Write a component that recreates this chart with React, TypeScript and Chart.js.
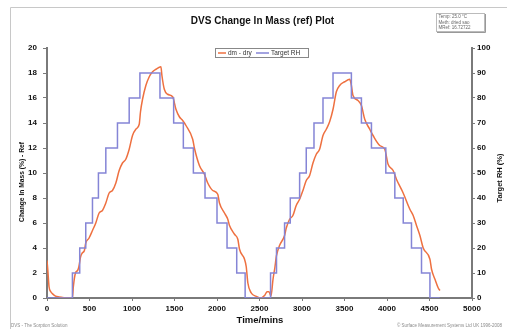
import React, { useEffect, useRef } from "react";
import { Chart, registerables } from "chart.js";

Chart.register(...registerables);

// Sample data
const dmTimes = [0, 10, 24, 45, 63, 100, 141, 200, 299, 310, 335, 360, 375, 395, 415, 440, 456, 495, 535, 574, 613, 652, 692, 731, 770, 810, 849, 888, 927, 967, 1006, 1045, 1085, 1100, 1124, 1163, 1203, 1242, 1281, 1340, 1352, 1380, 1419, 1478, 1517, 1557, 1596, 1635, 1714, 1734, 1793, 1852, 1891, 1950, 2009, 2029, 2088, 2127, 2147, 2206, 2245, 2265, 2324, 2344, 2363, 2403, 2462, 2521, 2560, 2590, 2612, 2635, 2659, 2680, 2700, 2736, 2795, 2815, 2854, 2893, 2932, 2972, 3011, 3050, 3090, 3129, 3168, 3207, 3247, 3286, 3325, 3365, 3404, 3443, 3502, 3561, 3581, 3600, 3659, 3699, 3738, 3797, 3836, 3915, 3974, 4013, 4072, 4111, 4190, 4269, 4308, 4347, 4387, 4426, 4505, 4524, 4564, 4603, 4623];
const dmValues = [3.0, 2.2, 0.9, 0.5, 0.35, 0.15, 0.08, 0.03, 0.0, 0.9, 2.0, 2.2, 2.5, 3.3, 3.6, 3.8, 4.4, 4.8, 5.4, 6.0, 6.8, 7.0, 7.6, 8.4, 8.6, 9.2, 10.2, 10.8, 11.1, 11.9, 13.0, 13.5, 13.9, 14.9, 15.9, 17.0, 17.7, 18.1, 18.3, 18.5, 17.8, 16.7, 16.3, 16.1, 15.1, 14.5, 14.2, 13.8, 12.7, 12.0, 10.6, 9.9, 9.2, 8.6, 8.3, 7.6, 6.8, 6.3, 5.8, 5.1, 4.7, 3.9, 3.1, 2.5, 1.2, 0.4, 0.13, 0.0, 0.2, 0.5, 0.5, 0.15, 1.5, 2.4, 3.4, 4.2, 5.0, 5.6, 6.3, 6.6, 7.4, 7.9, 8.6, 9.4, 9.8, 10.8, 11.5, 11.9, 13.0, 13.5, 14.1, 15.1, 16.5, 17.0, 17.3, 17.5, 17.0, 16.2, 15.8, 15.4, 14.3, 13.5, 13.0, 12.2, 11.9, 10.7, 10.2, 9.5, 8.4, 7.1, 6.6, 5.8, 5.0, 4.0, 3.1, 2.3, 1.5, 0.8, 0.6];

const rhTimes = [0, 299, 385, 456, 535, 605, 692, 829, 967, 1093, 1329, 1490, 1604, 1722, 1859, 2000, 2118, 2232, 2331, 2630, 2700, 2795, 2862, 2972, 3050, 3141, 3247, 3365, 3581, 3699, 3817, 3986, 4092, 4191, 4288, 4406, 4505, 4620];
const rhValues = [0, 10, 20, 30, 40, 50, 60, 70, 80, 90, 80, 70, 60, 50, 40, 30, 20, 10, 0, 10, 20, 30, 40, 50, 60, 70, 80, 90, 80, 70, 60, 50, 40, 30, 20, 10, 0, 0];

const titleText = "DVS Change In Mass (ref) Plot";
const seriesNames = ["dm - dry", "Target RH"];
const xTitle = "Time/mins";
const yTitle = "Change In Mass (%) - Ref";
const y1Title = "Target RH (%)";
const infoLines = ["Temp: 25.0 °C", "Meth: dried sao", "MRef: 16.72722"];
const footerLeft = "DVS - The Sorption Solution";
const footerRight = "© Surface Measurement Systems Ltd UK 1996-2008";

const FONT = '"Liberation Sans", Arial, sans-serif';
const ORANGE = "#ee7040";
const BLUE = "#8585d6";

const decorPlugin = {
  id: "decor",
  afterDraw(chart: any) {
    const ctx = chart.ctx as CanvasRenderingContext2D;
    ctx.save();
    // outer frame
    ctx.strokeStyle = "#c8c8c8";
    ctx.lineWidth = 1;
    ctx.beginPath();
    ctx.moveTo(10.5, 329);
    ctx.lineTo(10.5, 7.5);
    ctx.lineTo(507, 7.5);
    ctx.stroke();

    // title
    ctx.fillStyle = "#111";
    ctx.font = `bold 10px ${FONT}`;
    ctx.textAlign = "center";
    ctx.textBaseline = "middle";
    ctx.fillText(titleText, 262.5, 21);

    // legend
    ctx.strokeStyle = "#888";
    ctx.lineWidth = 1;
    ctx.strokeRect(215.5, 48.5, 93, 9);
    ctx.lineWidth = 1.5;
    ctx.strokeStyle = ORANGE;
    ctx.beginPath();
    ctx.moveTo(218, 53);
    ctx.lineTo(226, 53);
    ctx.stroke();
    ctx.strokeStyle = BLUE;
    ctx.beginPath();
    ctx.moveTo(256, 53);
    ctx.lineTo(269, 53);
    ctx.stroke();
    ctx.fillStyle = "#333";
    ctx.font = `6.5px ${FONT}`;
    ctx.textAlign = "left";
    ctx.fillText(seriesNames[0], 228, 53.5);
    ctx.fillText(seriesNames[1], 271, 53.5);

    // info box
    ctx.strokeStyle = "#bbb";
    ctx.lineWidth = 1;
    ctx.strokeRect(436.5, 13.5, 48, 18);
    ctx.strokeStyle = "#999";
    ctx.beginPath();
    ctx.moveTo(437, 32.5);
    ctx.lineTo(485.5, 32.5);
    ctx.lineTo(485.5, 14);
    ctx.stroke();
    ctx.fillStyle = "#666";
    ctx.font = `4.5px ${FONT}`;
    infoLines.forEach((l, i) => ctx.fillText(l, 438.5, 17 + i * 5.6));

    // axis titles
    ctx.fillStyle = "#111";
    ctx.font = `bold 9.5px ${FONT}`;
    ctx.textAlign = "center";
    ctx.fillText(xTitle, 260, 320);

    ctx.font = `bold 6.7px ${FONT}`;
    ctx.save();
    ctx.translate(22, 182);
    ctx.rotate(-Math.PI / 2);
    ctx.fillText(yTitle, 0, 0);
    ctx.restore();

    ctx.font = `bold 7.5px ${FONT}`;
    ctx.save();
    ctx.translate(500, 178);
    ctx.rotate(-Math.PI / 2);
    ctx.fillText(y1Title, 0, 0);
    ctx.restore();

    // footers
    ctx.fillStyle = "#8a8a8a";
    ctx.font = `4.5px ${FONT}`;
    ctx.textAlign = "left";
    ctx.fillText(footerLeft, 11, 326);
    ctx.textAlign = "right";
    ctx.fillText(footerRight, 502, 326);
    ctx.restore();
  },
};

export default function App() {
  const ref = useRef<HTMLCanvasElement>(null);
  useEffect(() => {
    document.body.style.margin = "0";
    const dm = dmTimes.map((t, i) => ({ x: t, y: dmValues[i] }));
    const rh = rhTimes.map((t, i) => ({ x: t, y: rhValues[i] }));
    const axisColor = "#7a7a7a";
    const tickFont = { family: FONT, size: 8, weight: "bold" as const };
    const plain = (v: any) => String(v);
    const chart = new Chart(ref.current!, {
      type: "line",
      data: {
        datasets: [
          {
            label: seriesNames[1],
            data: rh,
            yAxisID: "y1",
            borderColor: BLUE,
            borderWidth: 1.5,
            stepped: true,
            pointRadius: 0,
            fill: false,
          },
          {
            label: seriesNames[0],
            data: dm,
            yAxisID: "y",
            borderColor: ORANGE,
            borderWidth: 1.5,
            cubicInterpolationMode: "monotone",
            pointRadius: 0,
            fill: false,
          },
        ],
      },
      options: {
        animation: false,
        responsive: false,
        layout: { padding: { top: 48, left: 0, right: 0, bottom: 0 } },
        plugins: { legend: { display: false }, title: { display: false }, tooltip: { enabled: false } },
        scales: {
          x: {
            type: "linear",
            min: 0,
            max: 5000,
            ticks: { stepSize: 500, color: "#111", font: tickFont, padding: 3, maxRotation: 0, callback: plain },
            grid: { drawOnChartArea: false, drawTicks: true, tickLength: 3, color: axisColor },
            border: { display: true, color: axisColor, width: 2 },
            afterFit: (s: any) => { s.height = 31; },
          },
          y: {
            type: "linear",
            position: "left",
            min: 0,
            max: 20,
            ticks: { stepSize: 2, color: "#111", font: tickFont, padding: 6, callback: plain },
            grid: { drawOnChartArea: false, drawTicks: true, tickLength: 4, color: axisColor },
            border: { display: true, color: axisColor, width: 2 },
            afterFit: (s: any) => { s.width = 47; },
          },
          y1: {
            type: "linear",
            position: "right",
            min: 0,
            max: 100,
            ticks: { stepSize: 10, color: "#111", font: tickFont, padding: 2, callback: plain },
            grid: { drawOnChartArea: false, drawTicks: true, tickLength: 3, color: axisColor },
            border: { display: true, color: axisColor, width: 2 },
            afterFit: (s: any) => { s.width = 35; },
          },
        },
      },
      plugins: [decorPlugin],
    });
    return () => chart.destroy();
  }, []);
  return (
    <div style={{ position: "absolute", left: 0, top: 0, width: 507, height: 329, background: "#fff" }}>
      <canvas ref={ref} width={507} height={329} />
    </div>
  );
}
